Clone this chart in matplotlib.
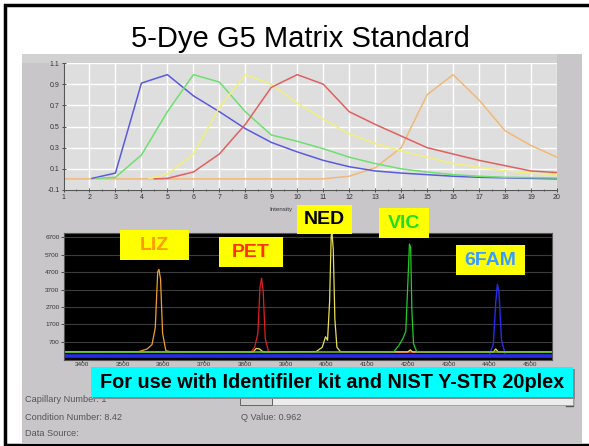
"""Recreate the 5-Dye G5 matrix standard slide."""
import matplotlib
matplotlib.use("Agg")
import matplotlib.pyplot as plt
from matplotlib.patches import Rectangle
from matplotlib.lines import Line2D

plt.rcParams["font.family"] = ["Liberation Sans", "DejaVu Sans"]

W, H = 589, 446

# spectral profile curves (top panel)
blue_x = [2.1, 3, 4, 5, 6, 7, 8, 9, 10, 11, 12, 13, 14, 15, 16, 17, 18, 19, 20]
blue_y = [0.01, 0.06, 0.91, 0.99, 0.79, 0.64, 0.48, 0.35, 0.26, 0.18, 0.12, 0.08,
          0.06, 0.045, 0.03, 0.02, 0.015, 0.01, 0.005]
green_x = [2.3, 3, 4, 5, 6, 7, 8, 9, 10, 11, 12, 13, 14, 15, 16, 17, 18, 19, 20]
green_y = [0.01, 0.02, 0.23, 0.64, 0.99, 0.92, 0.64, 0.42, 0.36, 0.29, 0.21, 0.15,
           0.10, 0.07, 0.045, 0.03, 0.02, 0.017, 0.014]
yellow_x = [4.3, 5, 6, 7, 8, 9, 10, 11, 12, 13, 14, 15, 16, 17, 18, 19, 20]
yellow_y = [0.01, 0.05, 0.24, 0.68, 0.99, 0.90, 0.72, 0.57, 0.43, 0.34, 0.27, 0.21,
            0.15, 0.115, 0.08, 0.06, 0.045]
red_x = [4.5, 5, 6, 7, 8, 9, 10, 11, 12, 13, 14, 15, 16, 17, 18, 19, 20]
red_y = [0.005, 0.01, 0.07, 0.24, 0.52, 0.87, 0.99, 0.90, 0.64, 0.52, 0.41, 0.30,
         0.24, 0.18, 0.13, 0.08, 0.065]
orange_x = [1, 11, 12, 13, 14, 15, 16, 17, 18, 19, 20]
orange_y = [0.005, 0.005, 0.03, 0.11, 0.30, 0.80, 0.99, 0.75, 0.46, 0.32, 0.21]

top_xticks = list(range(1, 21))
top_yticks = [-0.1, 0.1, 0.3, 0.5, 0.7, 0.9, 1.1]

# electropherogram traces (bottom panel)
liz_x = [3356, 3540, 3560, 3572, 3580, 3586, 3589, 3593, 3598, 3606, 3620, 4554]
liz_y = [130, 150, 300, 550, 1500, 4700, 4850, 4300, 1200, 200, 130, 130]
pet_x = [3356, 3815, 3824, 3832, 3837, 3841, 3845, 3850, 3858, 4554]
pet_y = [110, 130, 400, 1200, 3800, 4350, 3600, 900, 150, 110]
ned_x = [3356, 3820, 3828, 3836, 3845, 3975, 3990, 3998, 4003, 4008, 4012, 4014,
         4017, 4021, 4026, 4035, 4200, 4206, 4212, 4410, 4416, 4422, 4554]
ned_y = [130, 130, 330, 300, 130, 150, 400, 1000, 800, 3000, 6800, 6900,
         6000, 2000, 400, 140, 130, 250, 130, 130, 300, 130, 130]
vic_x = [3356, 4165, 4178, 4188, 4195, 4200, 4204, 4207, 4210, 4214, 4222, 4554]
vic_y = [120, 130, 500, 900, 1300, 4000, 6300, 6100, 2500, 600, 140, 120]
fam_x = [3356, 4400, 4410, 4416, 4420, 4424, 4430, 4440, 4554]
fam_y = [-100, -60, 600, 3000, 4000, 3500, 800, -80, -100]
fam_base_x = [3356, 4554]
fam_base_y = [-120, -120]

bot_xticks = list(range(3400, 4600, 100))
bot_yticks = list(range(700, 6800, 1000))

dye_labels = ["LIZ", "PET", "NED", "VIC", "6FAM"]
dye_text_colors = ["#ff9a00", "#ff3300", "#000000", "#22dd22", "#3a9cff"]
# label boxes in pixels: x0, y0, x1, y1
dye_boxes = [(120, 230, 189, 260), (219, 237, 283, 267), (297, 205, 352, 234),
             (379, 208, 429, 238), (456, 245, 525, 275)]


def fx(px):
    return px / W


def fy(py):
    return 1 - py / H


def px_rect(fig, x0, y0, x1, y1, **kw):
    r = Rectangle((fx(x0), fy(y1)), (x1 - x0) / W, (y1 - y0) / H,
                  transform=fig.transFigure, **kw)
    fig.patches.append(r)
    return r


def px_line(fig, xs, ys, **kw):
    ln = Line2D([fx(v) for v in xs], [fy(v) for v in ys],
                transform=fig.transFigure, **kw)
    fig.lines.append(ln)


fig = plt.figure(figsize=(W / 100, H / 100), dpi=100)
fig.patch.set_facecolor("white")

# slide border and grey screenshot panel
px_rect(fig, 22, 54, 582, 443, facecolor="#c9c6ca", edgecolor="none", zorder=-2)
px_rect(fig, 22, 54, 557, 63, facecolor="#d2d2d2", edgecolor="none", zorder=-1)
px_line(fig, [589, 4.5, 4.5, 589], [5, 5, 444.5, 444.5], color="black", lw=2.5,
        zorder=5, solid_joinstyle="miter")

fig.text(fx(300), fy(39), "5-Dye G5 Matrix Standard", ha="center", va="center",
         fontsize=21, color="black")

# top: spectral profiles
ax1 = fig.add_axes([fx(63.5), fy(190), (557 - 63.5) / W, (190 - 63) / H])
ax1.set_facecolor("#dedede")
for xs, ys, c in [(orange_x, orange_y, "#f2b878"), (blue_x, blue_y, "#5a5ae0"),
                  (green_x, green_y, "#6ee06e"), (yellow_x, yellow_y, "#f0f07a"),
                  (red_x, red_y, "#e06060")]:
    ax1.plot(xs, ys, color=c, lw=1.1)
ax1.set_xlim(1, 20)
ax1.set_ylim(-0.1, 1.1)
ax1.set_xticks(top_xticks)
ax1.set_xticks([v + 0.5 for v in top_xticks[:-1]], minor=True)
ax1.set_yticks(top_yticks)
ax1.set_yticklabels([f"{v:.1f}" for v in top_yticks])
ax1.grid(True, color="white", lw=1)
ax1.tick_params(axis="both", labelsize=5, colors="#333333", direction="inout",
                length=3, width=0.6, pad=1.5)
ax1.tick_params(axis="x", which="minor", direction="inout", length=2, width=0.5,
                colors="#333333")
for s in ["top", "right"]:
    ax1.spines[s].set_visible(False)
for s in ["left", "bottom"]:
    ax1.spines[s].set_color("#555555")
    ax1.spines[s].set_linewidth(0.8)
ax1.text(0.44, -0.13, "Intensity", transform=ax1.transAxes, fontsize=4.5,
         color="#333333", ha="center", va="top")

# bottom: electropherogram
ax2 = fig.add_axes([fx(64), fy(360), (552 - 64) / W, (360 - 233) / H])
ax2.set_facecolor("black")
ax2.plot(fam_base_x, fam_base_y, color="#2a2ae8", lw=2.6)
ax2.plot(fam_x, fam_y, color="#2a2ae8", lw=1.0)
ax2.plot(liz_x, liz_y, color="#f0a030", lw=0.9)
ax2.plot(pet_x, pet_y, color="#e02020", lw=0.9)
ax2.plot(ned_x, ned_y, color="#e8e050", lw=0.9)
ax2.plot(vic_x, vic_y, color="#22cc22", lw=0.9)
ax2.set_xlim(3356, 4554)
ax2.set_ylim(-330, 6930)
ax2.set_xticks(bot_xticks)
ax2.set_yticks(bot_yticks)
ax2.grid(True, axis="y", color="#3c3c3c", lw=0.8)
ax2.tick_params(axis="both", labelsize=4.6, colors="#333333", length=2, width=0.6,
                pad=1.2)
ax2.tick_params(axis="x", pad=0.3, length=1.5)
for s in ax2.spines.values():
    s.set_color("#555555")
    s.set_linewidth(0.8)

for lab, tc, (x0, y0, x1, y1) in zip(dye_labels, dye_text_colors, dye_boxes):
    px_rect(fig, x0, y0, x1, y1, facecolor="#ffff00", edgecolor="none", zorder=10)
    fig.text(fx((x0 + x1) / 2), fy((y0 + y1) / 2 + 0.5), lab, ha="center",
             va="center", fontsize=14, fontweight="bold", color=tc, zorder=11)

# slider and status text
px_rect(fig, 272, 398, 573, 405, facecolor="#ececec", edgecolor="#9a9a9a", lw=0.6, zorder=3)
px_rect(fig, 240, 398, 272, 405, facecolor="#d4d4d4", edgecolor="#555555", lw=0.6, zorder=3)
px_line(fig, [573, 573, 566], [394, 406, 406], color="#555555", lw=1.0, zorder=3)
info = [(25, 399, "Capillary Number: 1"), (25, 417, "Condition Number: 8.42"),
        (241, 417, "Q Value: 0.962"), (25, 433, "Data Source:")]
for x, y, t in info:
    fig.text(fx(x), fy(y), t, fontsize=6.6, color="#555555", ha="left", va="center")

# caption box with drop shadow
px_rect(fig, 93, 369, 575, 399, facecolor="#8a8a8a", edgecolor="none", zorder=12)
px_rect(fig, 91, 367, 573, 397, facecolor="#00ffff", edgecolor="none", zorder=13)
fig.text(fx(332), fy(383), "For use with Identifiler kit and NIST Y-STR 20plex",
         ha="center", va="center", fontsize=14.3, fontweight="bold", color="black",
         zorder=14)

fig.savefig("out.png", dpi=100)
